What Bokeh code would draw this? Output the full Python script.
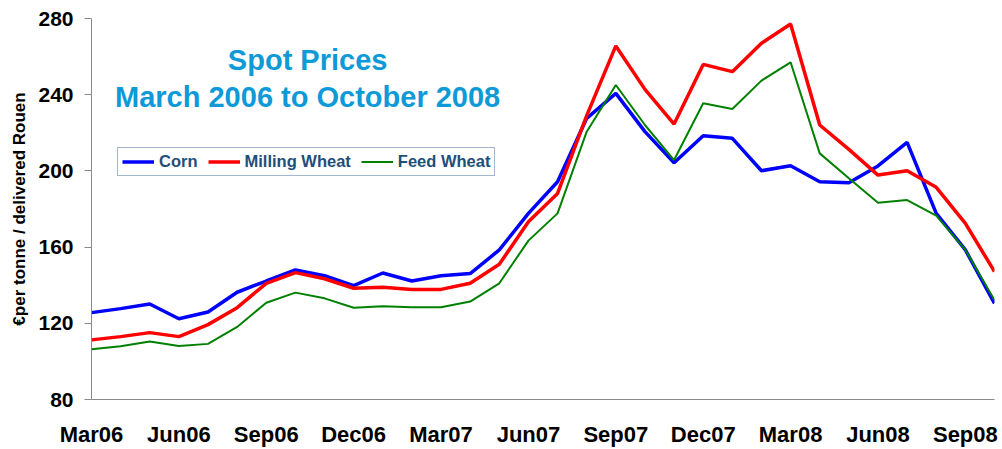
from bokeh.plotting import figure
from bokeh.models import (ColumnDataSource, FixedTicker, Legend, LegendItem, Label)
from bokeh.embed import file_html
from bokeh.resources import INLINE

# ---- data ----
months = ["Mar06", "Apr06", "May06", "Jun06", "Jul06", "Aug06", "Sep06", "Oct06",
          "Nov06", "Dec06", "Jan07", "Feb07", "Mar07", "Apr07", "May07", "Jun07",
          "Jul07", "Aug07", "Sep07", "Oct07", "Nov07", "Dec07", "Jan08", "Feb08",
          "Mar08", "Apr08", "May08", "Jun08", "Jul08", "Aug08", "Sep08", "Oct08"]
corn = [125.6, 127.7, 130.1, 122.4, 125.9, 136.3, 142.2, 148.0, 145.0, 139.8,
        146.4, 142.2, 145.0, 146.1, 158.5, 177.7, 194.3, 227.6, 240.7, 220.6,
        204.3, 218.5, 217.1, 200.1, 202.7, 194.3, 193.8, 202.6, 215.0, 177.7,
        158.5, 130.5]
milling_wheat = [111.3, 113.0, 115.1, 113.0, 119.3, 128.2, 141.0, 146.6, 143.4, 138.4,
                 138.9, 137.8, 137.8, 141.0, 151.0, 173.3, 188.2, 229.0, 265.6, 242.8,
                 224.6, 255.9, 252.1, 267.0, 277.1, 224.1, 211.3, 197.8, 200.1, 191.4,
                 172.5, 147.1]
feed_wheat = [106.4, 107.9, 110.4, 108.1, 109.2, 118.1, 130.8, 136.1, 133.1, 128.2,
              128.9, 128.4, 128.4, 131.4, 141.0, 163.4, 177.7, 220.6, 245.1, 224.1,
              205.7, 235.5, 232.5, 247.4, 257.0, 209.2, 196.1, 183.3, 184.7, 176.5,
              158.5, 132.2]
tick_labels = ["Mar06", "Jun06", "Sep06", "Dec06", "Mar07", "Jun07",
               "Sep07", "Dec07", "Mar08", "Jun08", "Sep08"]
y_ticks = [80, 120, 160, 200, 240, 280]
title_lines = ["Spot Prices", "March 2006 to October 2008"]
y_title = "€per tonne / delivered Rouen"

FONT = "Liberation Sans"

idx = list(range(len(months)))
source = ColumnDataSource(dict(x=idx, month=months, corn=corn,
                               milling=milling_wheat, feed=feed_wheat))

p = figure(width=1002, height=449, output_backend="svg", toolbar_location=None,
           x_range=(0, len(months) - 1), y_range=(y_ticks[0], y_ticks[-1]),
           min_border_left=91, min_border_right=8, min_border_top=18,
           min_border_bottom=0)
p.outline_line_color = None
p.grid.visible = False
p.background_fill_color = "white"
p.border_fill_color = "white"

r_corn = p.line("x", "corn", source=source, line_color="#0000FF", line_width=3.5)
r_mill = p.line("x", "milling", source=source, line_color="#FF0000", line_width=3.5)
r_feed = p.line("x", "feed", source=source, line_color="#008000", line_width=2)

# x axis
tick_pos = [months.index(t) for t in tick_labels]
p.xaxis.ticker = FixedTicker(ticks=tick_pos)
p.xaxis.major_label_overrides = {i: t for i, t in zip(tick_pos, tick_labels)}
p.xaxis.major_tick_line_color = None
p.xaxis.minor_tick_line_color = None
p.xaxis.major_tick_out = 0
p.xaxis.major_tick_in = 0
p.xaxis.axis_line_color = "#888888"
p.xaxis.major_label_text_font = FONT
p.xaxis.major_label_text_font_style = "bold"
p.xaxis.major_label_text_font_size = "22px"
p.xaxis.major_label_text_color = "black"
p.xaxis.major_label_standoff = 22

# y axis
p.yaxis.ticker = FixedTicker(ticks=y_ticks)
p.yaxis.minor_tick_line_color = None
p.yaxis.major_tick_in = 0
p.yaxis.major_tick_out = 7
p.yaxis.major_tick_line_color = "#888888"
p.yaxis.axis_line_color = "#888888"
p.yaxis.major_label_text_font = FONT
p.yaxis.major_label_text_font_style = "bold"
p.yaxis.major_label_text_font_size = "21px"
p.yaxis.major_label_text_color = "black"
p.yaxis.major_label_standoff = 11
p.yaxis.axis_label = y_title
p.yaxis.axis_label_text_font = FONT
p.yaxis.axis_label_text_font_style = "bold"
p.yaxis.axis_label_text_font_size = "17px"
p.yaxis.axis_label_text_color = "black"
p.yaxis.axis_label_standoff = 6

# title (two lines)
title_x = 7.42
title_y = [258.0, 238.8]
for txt, ty in zip(title_lines, title_y):
    p.add_layout(Label(x=title_x, y=ty, text=txt, text_align="center",
                       text_baseline="middle", text_font=FONT,
                       text_font_style="bold", text_font_size="29px",
                       text_color="#0E9AD7"))

legend = Legend(items=[LegendItem(label="Corn", renderers=[r_corn]),
                       LegendItem(label="Milling Wheat", renderers=[r_mill]),
                       LegendItem(label="Feed Wheat", renderers=[r_feed])],
                location=(26, 223), orientation="horizontal",
                border_line_color="#4A6FA5", border_line_width=1,
                background_fill_color="white", background_fill_alpha=1,
                label_text_font=FONT, label_text_font_style="bold",
                label_text_font_size="16.5px", label_text_color="#1F4E79",
                glyph_width=32, glyph_height=19, label_height=19,
                label_standoff=5, spacing=10, padding=4, margin=0)
p.add_layout(legend)

open("out.html", "w").write(file_html(p, INLINE))
